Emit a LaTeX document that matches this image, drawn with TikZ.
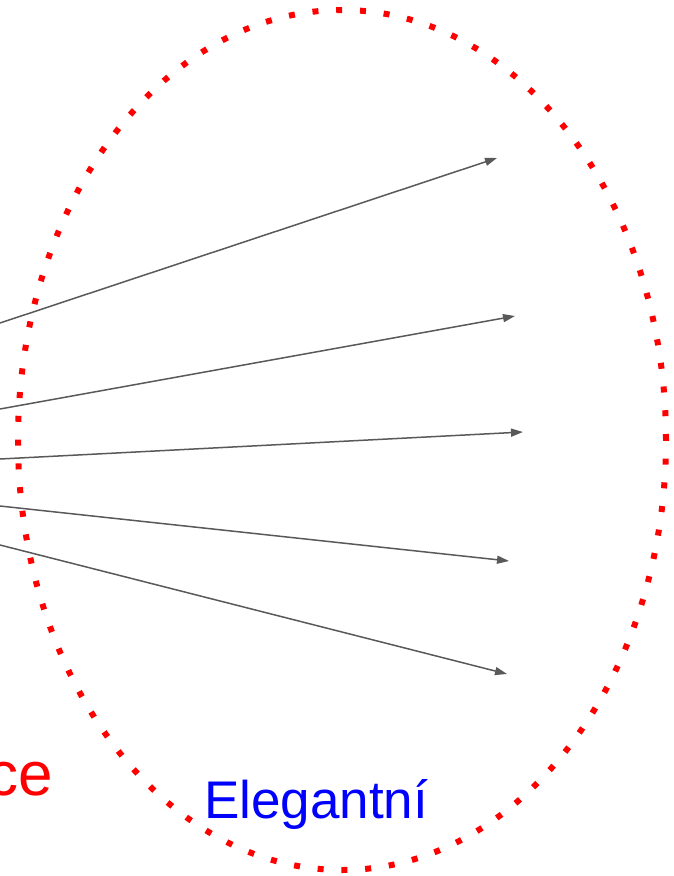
\documentclass[tikz,border=0pt]{standalone}
\usepackage{fontspec}
\setmainfont{Liberation Sans}
\usetikzlibrary{arrows.meta,positioning}

\begin{document}
\begin{tikzpicture}[
x=1pt,y=-1pt,
ring/.style={draw=red,line width=6pt,dash pattern=on 6pt off 17.8pt},
arrow/.style={-{Triangle[length=12pt,width=8pt]},draw={rgb,255:red,89;green,89;blue,89},line width=1.5pt},
label/.style={inner sep=0pt,font=\fontsize{53}{60}\selectfont}
]
\useasboundingbox (0,0) rectangle (673,876);
\draw[ring] (342,440) ellipse [x radius=324pt,y radius=430pt];
% left ends sit on the picture edge
\coordinate (s1) at (0,323);
\coordinate (s2) at (0,409);
\coordinate (s3) at (0,459);
\coordinate (s4) at (0,506);
\coordinate (s5) at (0,545);
\coordinate (t1) at (497,158);
\coordinate (t2) at (515,316);
\coordinate (t3) at (523,432);
\coordinate (t4) at (509,561);
\coordinate (t5) at (507,674);
\foreach \i in {1,...,5}
  \draw[arrow] (s\i) -- (t\i);
\node[label,text=red,anchor=base east,font=\fontsize{62}{70}\selectfont] (funkce) at (53,795) {ce};
\node[label,text=blue,anchor=base west] (elegantni) at (204,818) {Elegantní};
\end{tikzpicture}
\end{document}
